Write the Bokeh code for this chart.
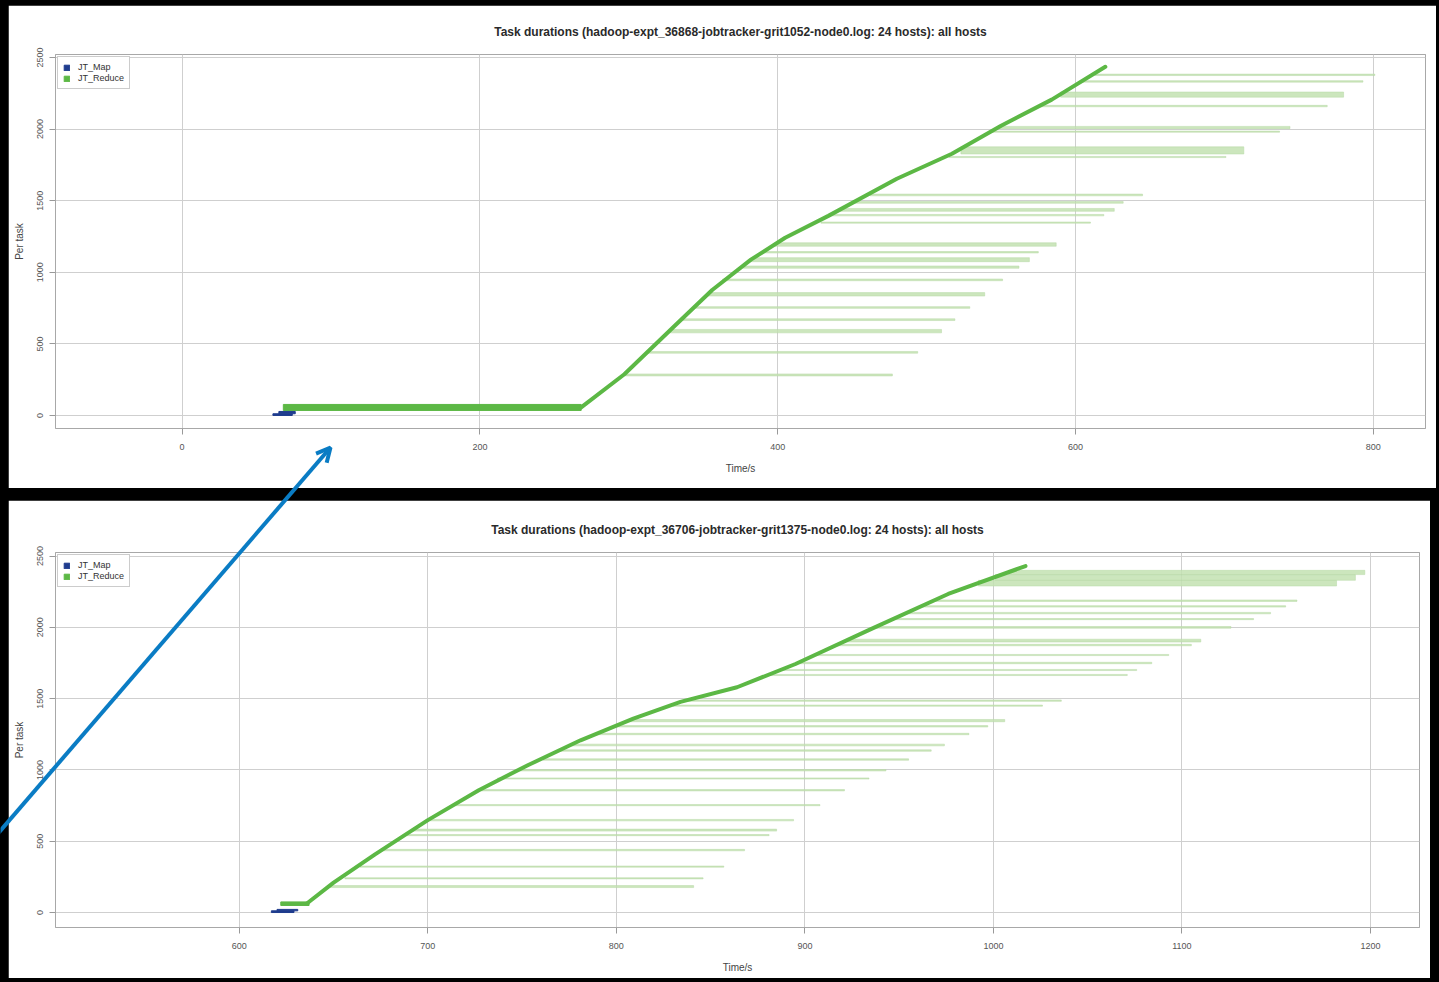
from bokeh.plotting import figure
from bokeh.layouts import column
from bokeh.models import (Range1d, FixedTicker, Legend, LegendItem, Arrow, OpenHead,
                          GlobalInlineStyleSheet, ColumnDataSource)
from bokeh.embed import file_html
from bokeh.resources import INLINE

# ---------------- data: upper chart ----------------
top_title = "Task durations (hadoop-expt_36868-jobtracker-grit1052-node0.log: 24 hosts): all hosts"
top_xticks = [0, 200, 400, 600, 800]
yticks = [0, 500, 1000, 1500, 2000, 2500]

top_map_mid = [6, 20]
top_map_n = [12, 16]
top_map_start = [61, 65]
top_map_end = [74, 76]

top_early_mid = [56]
top_early_n = [42]
top_early_start = [68]
top_early_end = [268]

top_curve_t = [268, 297, 330, 356, 382, 405, 434, 480, 517, 550, 584, 620]
top_curve_y = [56, 288, 618, 876, 1088, 1241, 1394, 1653, 1828, 2023, 2206, 2435]

top_band_mid = [283, 441, 589, 669, 754, 846, 947, 1036, 1088, 1140, 1194, 1347,
                1399, 1436, 1488, 1540, 1805, 1851, 1982, 2011, 2161, 2241, 2333, 2379]
top_band_n = [14, 12, 24, 12, 12, 24, 12, 16, 28, 10, 24, 8,
              10, 20, 12, 12, 8, 50, 8, 16, 10, 36, 10, 10]
top_band_start = [297, 312, 327, 335, 344, 353, 363, 377, 382, 390, 398, 429,
                  435, 441, 451, 462, 515, 523, 543, 548, 576, 590, 605, 613]
top_band_end = [477, 494, 510, 519, 529, 539, 551, 562, 569, 575, 587, 610,
                619, 626, 632, 645, 701, 713, 737, 744, 769, 780, 793, 801]

# ---------------- data: lower chart ----------------
bot_title = "Task durations (hadoop-expt_36706-jobtracker-grit1375-node0.log: 24 hosts): all hosts"
bot_xticks = [600, 700, 800, 900, 1000, 1100, 1200]

bot_map_mid = [6, 17]
bot_map_n = [12, 10]
bot_map_start = [617, 620]
bot_map_end = [629, 631]

bot_early_mid = [62]
bot_early_n = [25]
bot_early_start = [622]
bot_early_end = [637]

bot_curve_t = [636, 650, 672, 700, 727, 753, 781, 809, 834, 864, 895, 935, 976, 1017]
bot_curve_y = [65, 210, 408, 648, 858, 1033, 1208, 1360, 1477, 1580, 1743, 1988, 2234, 2430]

bot_band_mid = [182, 240, 322, 438, 543, 578, 648, 753, 858, 940, 998, 1073, 1136,
                1175, 1252, 1306, 1346, 1451, 1486, 1666, 1701, 1750, 1806, 1876,
                1907, 2000, 2058, 2100, 2147, 2187, 2310, 2350, 2385]
bot_band_n = [14, 8, 8, 10, 8, 14, 10, 8, 10, 8, 10, 10, 10,
              12, 10, 10, 16, 8, 10, 8, 8, 10, 8, 10,
              20, 12, 8, 10, 10, 10, 40, 40, 30]
bot_band_start = [647, 656, 664, 676, 688, 692, 700, 714, 727, 737, 748, 761, 770,
                  776, 789, 799, 806, 830, 837, 882, 888, 896, 905, 917,
                  922, 937, 947, 954, 962, 968, 992, 1001, 1008]
bot_band_end = [841, 846, 857, 868, 881, 885, 894, 908, 921, 934, 943, 955, 967,
                974, 987, 997, 1006, 1026, 1036, 1071, 1076, 1084, 1093, 1105,
                1110, 1126, 1138, 1147, 1155, 1161, 1182, 1192, 1197]

MAP_COLOR = "#1f3c8e"
RED_COLOR = "#5cb845"
BAND_COLOR = "#c3e2b2"
ARROW_COLOR = "#0a7cc4"
FONT = "Liberation Sans"


def make_chart(title, xr, yr, xticks, mp, early, curve, bands, w, h, borders):
    p = figure(width=w, height=h, x_range=Range1d(*xr), y_range=Range1d(*yr),
               output_backend="svg", toolbar_location=None, title=title,
               min_border_left=borders[0], min_border_right=borders[1],
               min_border_top=borders[2], min_border_bottom=borders[3])
    p.background_fill_color = "white"
    p.border_fill_color = "white"
    p.outline_line_color = "#a8a8a8"
    p.title.text_font = FONT
    p.title.text_font_size = "12px"
    p.title.text_font_style = "bold"
    p.title.text_color = "#2a2a2a"
    p.title.align = "center"
    p.title.standoff = 31

    p.xgrid.grid_line_color = "#cfcfcf"
    p.ygrid.grid_line_color = "#cfcfcf"
    p.xaxis.ticker = FixedTicker(ticks=xticks)
    p.yaxis.ticker = FixedTicker(ticks=yticks)
    p.yaxis.major_label_orientation = "vertical"
    p.xaxis.axis_label = "Time/s"
    p.yaxis.axis_label = "Per task"
    for ax in (p.xaxis[0], p.yaxis[0]):
        ax.axis_line_color = None
        ax.major_tick_line_color = "#999999"
        ax.major_tick_out = 6
        ax.major_tick_in = 0
        ax.minor_tick_line_color = None
        ax.major_label_text_font = FONT
        ax.major_label_text_font_size = "9px"
        ax.major_label_text_color = "#555555"
        ax.axis_label_text_font = FONT
        ax.axis_label_text_font_size = "10px"
        ax.axis_label_text_font_style = "normal"
        ax.axis_label_text_color = "#444444"
    p.xaxis.major_label_standoff = 9
    p.xaxis.axis_label_standoff = 10
    p.yaxis.major_label_standoff = 6
    p.yaxis.axis_label_standoff = 10

    bsrc = ColumnDataSource(dict(y=bands[0], n=bands[1], s=bands[2], e=bands[3]))
    p.hbar(y="y", height="n", left="s", right="e", source=bsrc,
           fill_color=BAND_COLOR, fill_alpha=0.85, line_color="#b7d9a4", line_width=0.5)

    esrc = ColumnDataSource(dict(y=early[0], n=early[1], s=early[2], e=early[3]))
    r_red = p.hbar(y="y", height="n", left="s", right="e", source=esrc,
                   fill_color=RED_COLOR, line_color=RED_COLOR)

    p.line(curve[0], curve[1], line_width=4, color=RED_COLOR, line_join="round", line_cap="round")

    msrc = ColumnDataSource(dict(y=mp[0], n=mp[1], s=mp[2], e=mp[3]))
    r_map = p.hbar(y="y", height="n", left="s", right="e", source=msrc,
                   fill_color=MAP_COLOR, line_color=MAP_COLOR)

    legend = Legend(items=[LegendItem(label="JT_Map", renderers=[r_map]),
                           LegendItem(label="JT_Reduce", renderers=[r_red])],
                    location="top_left")
    legend.label_text_font = FONT
    legend.label_text_font_size = "9px"
    legend.label_text_color = "#333333"
    legend.glyph_width = 7
    legend.glyph_height = 7
    legend.label_height = 9
    legend.label_standoff = 8
    legend.spacing = 1
    legend.padding = 5
    legend.margin = 2
    legend.border_line_color = "#999999"
    legend.background_fill_alpha = 1.0
    p.add_layout(legend)
    return p


p1 = make_chart(top_title, (-85, 835), (-91, 2521), top_xticks,
                (top_map_mid, top_map_n, top_map_start, top_map_end),
                (top_early_mid, top_early_n, top_early_start, top_early_end),
                (top_curve_t, top_curve_y),
                (top_band_mid, top_band_n, top_band_start, top_band_end),
                1428, 483, (47, 11, 49, 60))
p2 = make_chart(bot_title, (502.5, 1226), (-105, 2525), bot_xticks,
                (bot_map_mid, bot_map_n, bot_map_start, bot_map_end),
                (bot_early_mid, bot_early_n, bot_early_start, bot_early_end),
                (bot_curve_t, bot_curve_y),
                (bot_band_mid, bot_band_n, bot_band_start, bot_band_end),
                1422, 478, (47, 2, 52, 51))

p1.margin = (5, 0, 0, 8)
p2.margin = (0, 0, 0, 8)

# overlay canvas for the blue call-out arrow (pixel coordinates, y downward);
# its frame spans page x 0..345, y 440..845
pa = figure(width=403, height=405, x_range=Range1d(0, 345), y_range=Range1d(405, 0),
            output_backend="svg", toolbar_location=None,
            x_axis_type=None, y_axis_type=None,
            min_border_left=47, min_border_right=11, min_border_top=0, min_border_bottom=0,
            styles={"position": "absolute", "left": "-47px", "top": "440px"})
pa.grid.visible = False
pa.outline_line_color = None
pa.background_fill_alpha = 0
pa.border_fill_alpha = 0
pa.add_layout(Arrow(x_start=-10, y_start=401.6, x_end=330, y_end=7,
                    line_color=ARROW_COLOR, line_width=4,
                    end=OpenHead(size=14, line_color=ARROW_COLOR, line_width=4)))

page = column(p1, p2, pa, spacing=12,
              styles={"position": "relative"},
              stylesheets=[GlobalInlineStyleSheet(
                  css="html, body { background-color: #000 !important; margin: 0 !important; overflow: hidden; }")])

open("out.html", "w").write(file_html(page, INLINE))
